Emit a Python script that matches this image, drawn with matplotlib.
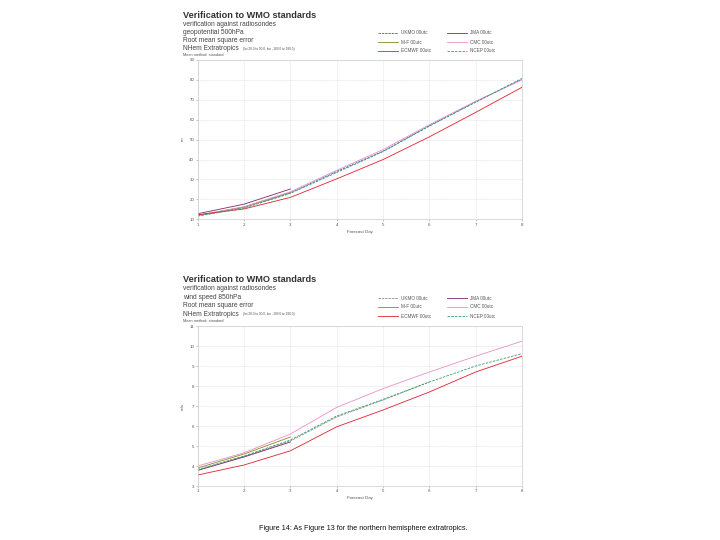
import numpy as np
import matplotlib
matplotlib.use("Agg")
import matplotlib.pyplot as plt

plt.rcParams['font.family'] = ['Liberation Sans', 'DejaVu Sans']

# forecast days
days = [1, 2, 3, 4, 5, 6, 7, 8]

# geopotential 500hPa, RMSE (m)
z_ukmo = [11.8, 16.0, 23.3, 34.0, 44.2, 57.0, 69.0, 80.3]
z_jma = [12.8, 17.6, 25.2]
z_mf = [12.0, 16.2, 23.5]
z_cmc = [12.0, 16.3, 23.8, 34.6, 45.0, 57.5, 69.3, 80.0]
z_ecmwf = [12.3, 15.2, 21.0, 30.3, 40.0, 51.4, 63.7, 76.3]
z_ncep = [11.6, 15.6, 23.0, 33.5, 44.0, 56.8, 68.8, 80.8]

# wind speed 850hPa, RMSE (m/s)
w_ukmo = [3.80, 4.48, 5.25, 6.45, 7.30, 8.20]
w_jma = [3.78, 4.45, 5.20]
w_mf = [3.90, 4.60, 5.45]
w_cmc = [4.00, 4.66, 5.60, 6.93, 7.87, 8.70, 9.49, 10.24]
w_ecmwf = [3.55, 4.05, 4.76, 5.96, 6.80, 7.70, 8.70, 9.49]
w_ncep = [3.82, 4.50, 5.30, 6.50, 7.33, 8.20, 9.00, 9.62]

names = ['UKMO 00utc', 'JMA 00utc', 'M-F 00utc', 'CMC 00utc', 'ECMWF 00utc', 'NCEP 00utc']

fig = plt.figure(figsize=(7.2, 5.4), dpi=100)


def panel(rect, series, ukmo_col, ylim, yticks, ylab, var, top):
    ax = fig.add_axes(rect)
    cols = [ukmo_col, '#7a2a6a', '#8a8a20', '#e890c8', '#e02030', '#30a070']
    styles = [(0, (3, 1)), '-', '-', '-', '-', (0, (3, 1.5))]
    for s, c, ls in zip(series, cols, styles):
        ax.plot(days[:len(s)], s, color=c, ls=ls, lw=0.6)
    ax.set_xlim(1, 8)
    ax.set_ylim(*ylim)
    ax.set_yticks(yticks)
    ax.set_xticks(days)
    ax.tick_params(labelsize=3.2, length=1.5, width=0.4, color='#999999',
                   labelcolor='#555555', pad=1)
    ax.grid(True, color='#dddddd', lw=0.4, ls=(0, (2, 1)))
    for sp in ax.spines.values():
        sp.set_color('#cccccc')
        sp.set_linewidth(0.5)
    ax.set_xlabel('Forecast Day', fontsize=3.2, color='#555555', labelpad=2)
    ax.set_ylabel(ylab, fontsize=3.2, color='#555555', labelpad=3)

    # header text
    t = 1 - top / 540
    fig.text(0.254, t, 'Verification to WMO standards', fontsize=6.6,
             fontweight='bold', color='#333333', va='center')
    lines = ['verification against radiosondes', var, 'Root mean square error']
    for i, s in enumerate(lines):
        fig.text(0.254, t - (9 + 8.3 * i) / 540, s, fontsize=4.8,
                 color='#444444', va='center')
    y_nh = t - 34 / 540
    fig.text(0.254, y_nh, 'NHem Extratropics', fontsize=4.8,
             color='#444444', va='center')
    fig.text(243 / 720, y_nh, '(lat 20.0 to 90.0, lon -180.0 to 180.0)',
             fontsize=2.3, color='#555555', va='center')
    fig.text(0.254, t - 40.5 / 540, 'Mean method: standard', fontsize=2.8,
             color='#555555', va='center')

    # legend, two columns
    for i, (nm, c, ls) in enumerate(zip(names, cols, styles)):
        col, row = i % 2, i // 2
        x0 = (378 + 69 * col) / 720
        yy = t - (18 + 9 * row) / 540
        fig.add_artist(plt.Line2D([x0, x0 + 20 / 720], [yy, yy], color=c,
                                  ls=ls, lw=0.6, zorder=5))
        fig.text(x0 + 23 / 720, yy, nm, fontsize=3.3, color='#555555',
                 va='center')
    return ax


panel([0.2746, 1 - 219.3 / 540, 0.4504, 159.3 / 540],
      [z_ukmo, z_jma, z_mf, z_cmc, z_ecmwf, z_ncep], '#5a5aa8',
      (10, 90), range(10, 91, 10), 'm', 'geopotential 500hPa', 15)

panel([0.2746, 1 - 486 / 540, 0.4504, 160 / 540],
      [w_ukmo, w_jma, w_mf, w_cmc, w_ecmwf, w_ncep], '#909090',
      (3, 11), range(3, 12), 'm/s', 'wind speed 850hPa', 280)

fig.text(0.505, 1 - 529 / 540,
         'Figure 14: As Figure 13 for the northern hemisphere extratropics.',
         fontsize=5.2, ha='center', va='center', color='#111111')

fig.savefig('out.png', dpi=100)
